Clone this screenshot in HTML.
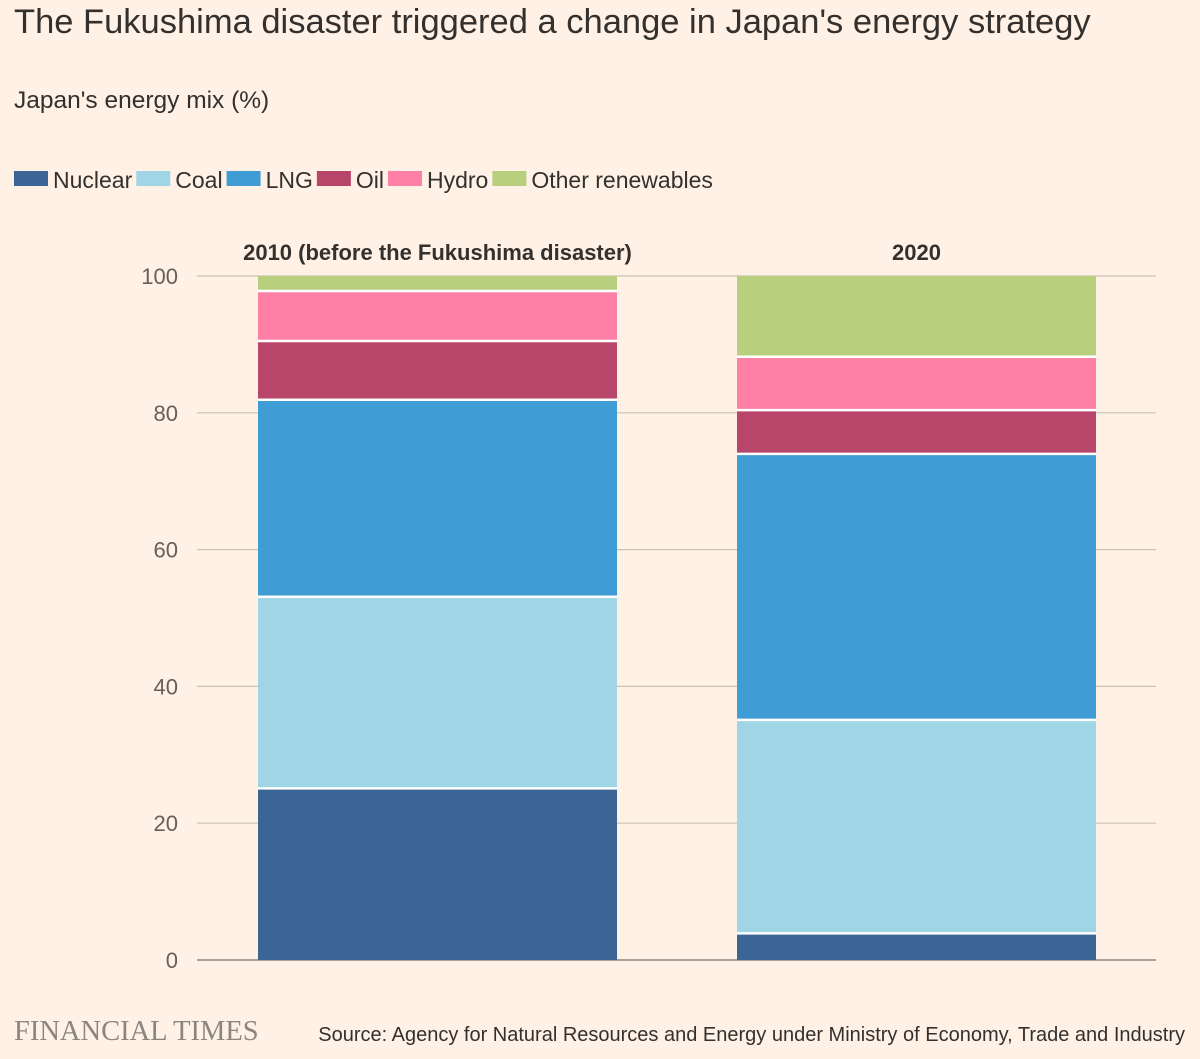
<!DOCTYPE html>
<html><head><meta charset="utf-8"><style>
body{margin:0;background:#fff1e5;font-family:"Liberation Sans",sans-serif;}
</style></head><body>
<svg width="1200" height="1054" xmlns="http://www.w3.org/2000/svg">
<rect width="1200" height="1054" fill="#fff1e5"/>
<text x="14" y="33" font-size="34.5" fill="#33302e">The Fukushima disaster triggered a change in Japan's energy strategy</text>
<text x="14" y="108" font-size="24.5" fill="#33302e">Japan's energy mix (%)</text>
<g id="legend"></g>
<g id="grid"></g>
<g id="bars"></g>
<text x="14" y="1040" font-size="28.5" fill="#8a8580" font-family="Liberation Serif,serif">FINANCIAL TIMES</text>
<text x="1185" y="1041" font-size="20" fill="#33302e" text-anchor="end">Source: Agency for Natural Resources and Energy under Ministry of Economy, Trade and Industry</text>
</svg>
<script>
const categories=["2010 (before the Fukushima disaster)","2020"];
const seriesNames=["Nuclear","Coal","LNG","Oil","Hydro","Other renewables"];
const nuclear=[25.1,3.9];
const coal=[28,31.2];
const lng=[28.8,38.9];
const oil=[8.6,6.4];
const hydro=[7.3,7.8];
const other=[2.2,11.8];
const yTicks=[0,20,40,60,80,100];
const colors=["#3a6595","#a0d5e6","#409cd4","#b8456a","#ff80a7","#b8cf7e"];
const series=[nuclear,coal,lng,oil,hydro,other];
const NS="http://www.w3.org/2000/svg";
function y(v){return 960-v*6.84;}
function bx(i){return 258+i*479;}
const BW=359;
function mk(tag,attrs,parent){const e=document.createElementNS(NS,tag);for(const k in attrs)e.setAttribute(k,attrs[k]);parent.appendChild(e);return e;}
const grid=document.getElementById('grid');
yTicks.forEach(t=>{
 const l=mk('line',{x1:197,x2:1156,y1:y(t),y2:y(t),stroke:t===0?'#8c8580':'#ccc1b7','stroke-width':t===0?1.5:1.2},grid);
 
 
 const tx=mk('text',{x:178,y:y(t)+8,'font-size':22,fill:'#66605c','text-anchor':'end'},grid);
 tx.textContent=t;
 
 
});
const bars=document.getElementById('bars');
categories.forEach((c,i)=>{
 let acc=0;
 series.forEach((s,j)=>{
  const top=acc+s[i];
  const r=mk('rect',{x:bx(i),y:y(top),width:BW,height:y(acc)-y(top),fill:colors[j]},bars);
  
  
  if(acc>0){const ln=mk('line',{x1:bx(i),x2:bx(i)+BW,y1:y(acc),y2:y(acc),stroke:'#ffffff','stroke-width':2.5},bars);
   
   }
  acc=top;
 });
 const t=mk('text',{x:bx(i)+BW/2,y:260,'font-size':22,'font-weight':'bold',fill:'#33302e','text-anchor':'middle'},bars);
 t.textContent=c;
 
 
});
const legend=document.getElementById('legend');
let lx=14;
seriesNames.forEach((n,j)=>{
 const r=mk('rect',{x:lx,y:171,width:34,height:15,fill:colors[j]},legend);
 
 
 const t=mk('text',{x:lx+39,y:188,'font-size':23,fill:'#33302e'},legend);
 t.textContent=n;
 
 
 lx+=39+t.getComputedTextLength()+4;
});
</script>
</body></html>
